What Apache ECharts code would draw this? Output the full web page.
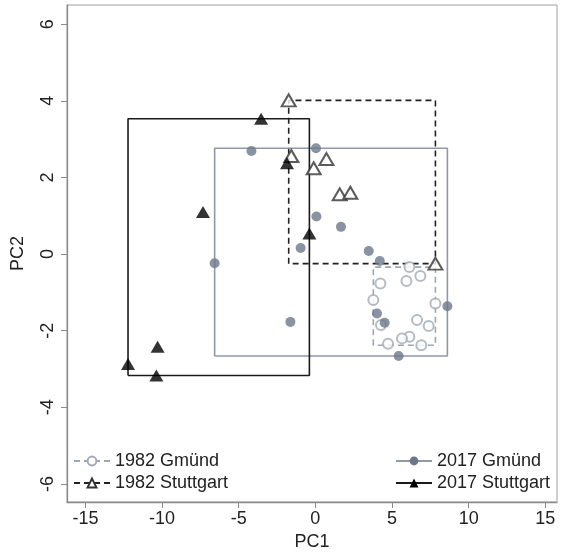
<!DOCTYPE html>
<html>
<head>
<meta charset="utf-8">
<script src="https://cdn.jsdelivr.net/npm/echarts@6/dist/echarts.min.js"></script>
<style>
html, body { margin: 0; padding: 0; background: #fff; }
#chart { width: 561px; height: 560px; }
</style>
</head>
<body>
<div id="chart"></div>
<script>
// group names (legend order)
var groupNames = ['1982 Gmünd', '1982 Stuttgart', '2017 Gmünd', '2017 Stuttgart'];

// PC1 / PC2 scores
var gmund1982X = [6.13, 6.85, 5.94, 4.24, 3.78, 7.83, 6.63, 7.39, 4.28, 6.13, 5.65, 4.74, 6.91];
var gmund1982Y = [-0.34, -0.57, -0.70, -0.77, -1.20, -1.29, -1.72, -1.88, -1.85, -2.16, -2.20, -2.34, -2.38];

var stutt1982X = [-1.74, -1.57, 0.72, -0.11, 1.59, 2.28, 7.83];
var stutt1982Y = [4.01, 2.56, 2.48, 2.24, 1.56, 1.60, -0.25];

var gmund2017X = [-4.17, 0.04, 0.07, -0.96, -6.57, -1.63, 1.67, 3.48, 4.20, 4.02, 4.52, 8.61, 5.43];
var gmund2017Y = [2.69, 2.76, 0.98, 0.16, -0.24, -1.77, 0.71, 0.08, -0.18, -1.55, -1.79, -1.36, -2.66];

var stutt2017X = [-3.54, -1.85, -7.33, -0.39, -10.29, -12.22, -10.37];
var stutt2017Y = [3.53, 2.37, 1.10, 0.54, -2.42, -2.87, -3.17];

// tick labels
var xTicks = [-15, -10, -5, 0, 5, 10, 15];
var yTicks = [-6, -4, -2, 0, 2, 4, 6];

function pairs(xs, ys) {
	return xs.map(function(x, i) { return [x, ys[i]]; });
}
// bounding box of a group, as a closed path
function box(xs, ys) {
	var x0 = Math.min.apply(null, xs), x1 = Math.max.apply(null, xs);
	var y0 = Math.min.apply(null, ys), y1 = Math.max.apply(null, ys);
	return [[x0, y0], [x0, y1], [x1, y1], [x1, y0], [x0, y0]];
}

var styles = [
	{ xs: gmund1982X, ys: gmund1982Y, line: '#9ea6b2', dash: [6, 4], symbol: 'emptyCircle', size: 10, color: '#a3aab5' },
	{ xs: stutt1982X, ys: stutt1982Y, line: '#222222', dash: [6, 4], symbol: 'emptyTriangle', size: [14, 12], color: '#333333' },
	{ xs: gmund2017X, ys: gmund2017Y, line: '#8f99a7', dash: 'solid', symbol: 'circle', size: 10, color: '#6b788a' },
	{ xs: stutt2017X, ys: stutt2017Y, line: '#1a1a1a', dash: 'solid', symbol: 'triangle', size: [14, 12], color: '#000000' }
];

var series = [];
styles.forEach(function(s, i) {
	series.push({
		name: groupNames[i],
		type: 'line',
		data: box(s.xs, s.ys),
		symbol: s.symbol,
		showSymbol: false,
		silent: true,
		z: 2,
		lineStyle: { color: s.line, width: 1.6, type: s.dash },
		itemStyle: { color: s.color }
	});
});
styles.forEach(function(s, i) {
	series.push({
		name: groupNames[i],
		type: 'scatter',
		data: pairs(s.xs, s.ys),
		symbol: s.symbol,
		symbolSize: s.size,
		z: 3,
		itemStyle: s.symbol.indexOf('empty') === 0
			? { color: s.color, borderColor: s.color, borderWidth: 1.2 }
			: { color: s.color }
	});
});

var textFont = 'Liberation Sans, Arial, sans-serif';
var legendBase = {
	orient: 'vertical',
	top: 447,
	itemWidth: 36,
	itemHeight: 11,
	itemGap: 4,
	selectedMode: false,
	textStyle: { fontSize: 18, lineHeight: 16, color: '#222', fontFamily: textFont }
};

var chart = echarts.init(document.getElementById('chart'));
chart.setOption({
	animation: false,
	backgroundColor: '#fff',
	grid: {
		left: 67, right: 4, top: 5, bottom: 58,
		show: true, borderColor: '#a0a0a0', borderWidth: 1
	},
	legend: [
		Object.assign({ left: 68, data: [groupNames[0], groupNames[1]] }, legendBase),
		Object.assign({ left: 390, data: [groupNames[2], groupNames[3]] }, legendBase)
	],
	xAxis: {
		type: 'value',
		min: -16.2,
		max: 15.76,
		name: 'PC1',
		nameLocation: 'middle',
		nameGap: 30,
		nameTextStyle: { fontSize: 18, color: '#222', fontFamily: textFont },
		splitLine: { show: false },
		axisLine: { onZero: false, lineStyle: { color: '#8a8a8a', width: 1.3 } },
		axisTick: { customValues: xTicks, length: 6, lineStyle: { color: '#8a8a8a' } },
		axisLabel: { customValues: xTicks, fontSize: 18, color: '#222', margin: 8, fontFamily: textFont }
	},
	yAxis: {
		type: 'value',
		min: -6.47,
		max: 6.5,
		name: 'PC2',
		nameLocation: 'middle',
		nameGap: 40,
		nameRotate: 90,
		nameTextStyle: { fontSize: 18, color: '#222', fontFamily: textFont },
		splitLine: { show: false },
		axisLine: { onZero: false, lineStyle: { color: '#8a8a8a', width: 1.3 } },
		axisTick: { customValues: yTicks, length: 6, lineStyle: { color: '#8a8a8a' } },
		axisLabel: { customValues: yTicks, rotate: 90, fontSize: 18, color: '#222', margin: 10, fontFamily: textFont }
	},
	series: series
});
</script>
</body>
</html>
